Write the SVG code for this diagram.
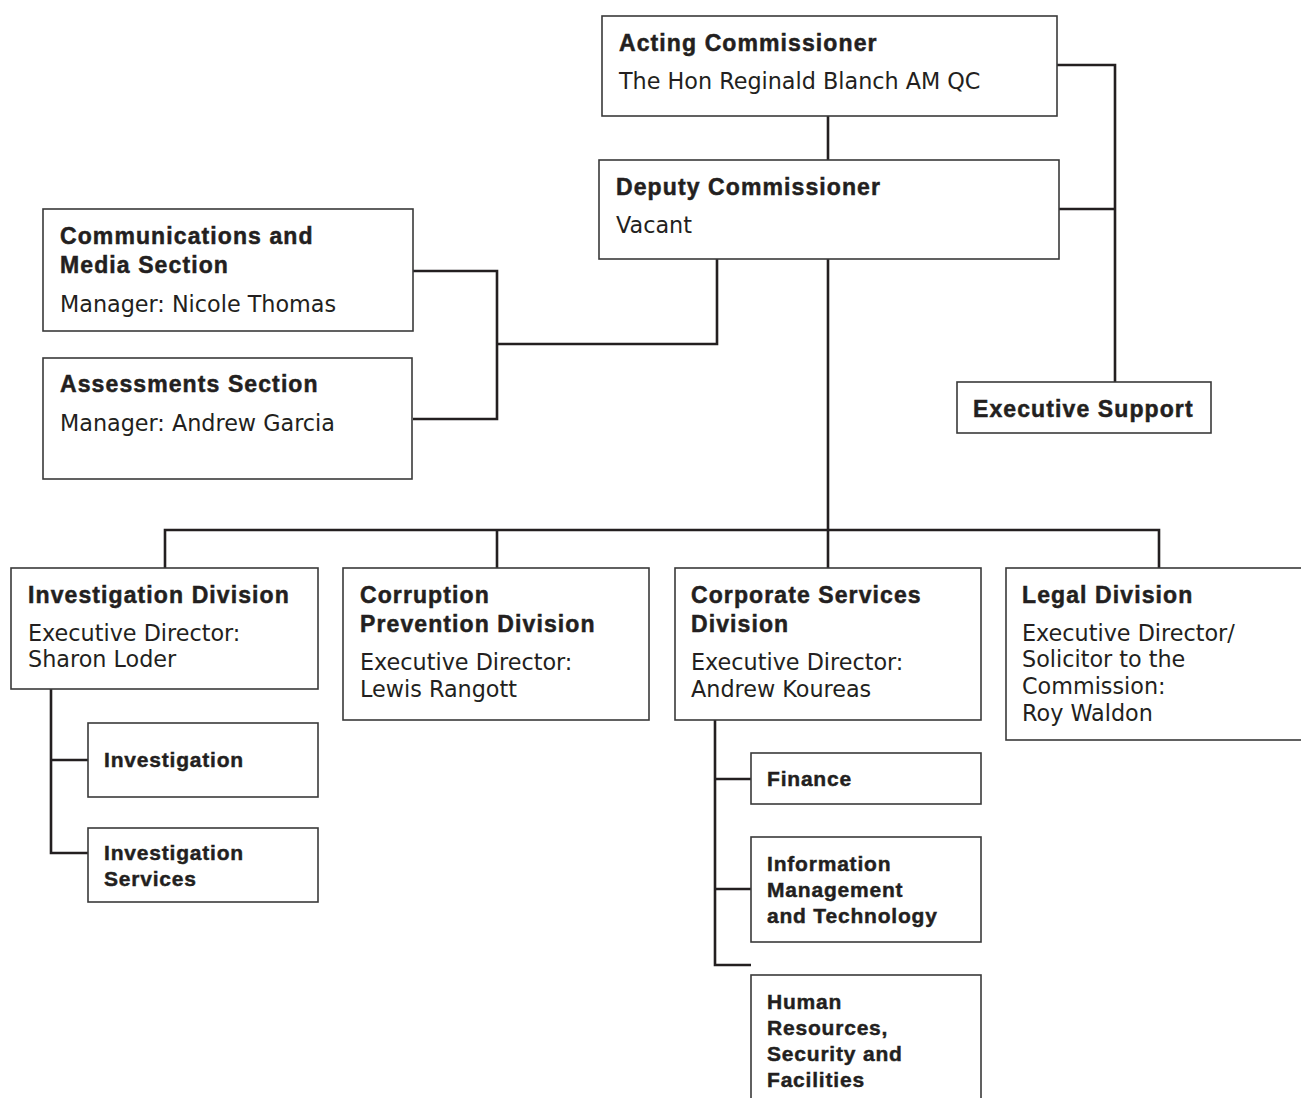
<svg xmlns="http://www.w3.org/2000/svg" width="1301" height="1098" viewBox="0 0 1301 1098">
<style>
.box{fill:#fff;stroke:#3a3a3a;stroke-width:1.6}
.b{font-family:"Liberation Sans",Arial,sans-serif;font-weight:bold;font-size:23px;letter-spacing:1.1px;fill:#231f20;stroke:#231f20;stroke-width:0.5}
.s{font-family:"Liberation Sans",Arial,sans-serif;font-weight:bold;font-size:21px;letter-spacing:0.8px;fill:#231f20;stroke:#231f20;stroke-width:0.45}
.r{font-family:"DejaVu Sans",Verdana,sans-serif;font-size:22.3px;fill:#231f20}
.c{fill:none;stroke:#231f20;stroke-width:2.6}
</style>
<rect width="1301" height="1098" fill="#fff"/>
<g id="connectors">
<path class="c" d="M828 116V160"/>
<path class="c" d="M1057 65H1115V382"/>
<path class="c" d="M1059 209H1115"/>
<path class="c" d="M717 259V344H497"/>
<path class="c" d="M413 271H497V419H413"/>
<path class="c" d="M828 259V568"/>
<path class="c" d="M165 568V530H1159V568"/>
<path class="c" d="M497 530V568"/>
<path class="c" d="M51 689V853H88"/>
<path class="c" d="M51 760H88"/>
<path class="c" d="M715 720V965H751"/>
<path class="c" d="M715 779H751"/>
<path class="c" d="M715 889H751"/>
</g>
<g id="acting">
<rect class="box" x="602" y="16" width="455" height="100"/>
<text class="b" x="619" y="51">Acting Commissioner</text>
<text class="r" x="619" y="89">The Hon Reginald Blanch AM QC</text>
</g>
<g id="deputy">
<rect class="box" x="599" y="160" width="460" height="99"/>
<text class="b" x="616" y="195">Deputy Commissioner</text>
<text class="r" x="616" y="233">Vacant</text>
</g>
<g id="comms">
<rect class="box" x="43" y="209" width="370" height="122"/>
<text class="b" x="60" y="244">Communications and</text>
<text class="b" x="60" y="273">Media Section</text>
<text class="r" x="60" y="312">Manager: Nicole Thomas</text>
</g>
<g id="assessments">
<rect class="box" x="43" y="358" width="369" height="121"/>
<text class="b" x="60" y="392">Assessments Section</text>
<text class="r" x="60" y="431">Manager: Andrew Garcia</text>
</g>
<g id="execsupport">
<rect class="box" x="957" y="382" width="254" height="51"/>
<text class="b" x="973" y="417">Executive Support</text>
</g>
<g id="investigationdiv">
<rect class="box" x="11" y="568" width="307" height="121"/>
<text class="b" x="28" y="603">Investigation Division</text>
<text class="r" x="28" y="641">Executive Director:</text>
<text class="r" x="28" y="667">Sharon Loder</text>
</g>
<g id="corruption">
<rect class="box" x="343" y="568" width="306" height="152"/>
<text class="b" x="360" y="603">Corruption</text>
<text class="b" x="360" y="632">Prevention Division</text>
<text class="r" x="360" y="670">Executive Director:</text>
<text class="r" x="360" y="697">Lewis Rangott</text>
</g>
<g id="corporate">
<rect class="box" x="675" y="568" width="306" height="152"/>
<text class="b" x="691" y="603">Corporate Services</text>
<text class="b" x="691" y="632">Division</text>
<text class="r" x="691" y="670">Executive Director:</text>
<text class="r" x="691" y="697">Andrew Koureas</text>
</g>
<g id="legal">
<rect class="box" x="1006" y="568" width="310" height="172"/>
<text class="b" x="1022" y="603">Legal Division</text>
<text class="r" x="1022" y="641">Executive Director/</text>
<text class="r" x="1022" y="667">Solicitor to the</text>
<text class="r" x="1022" y="694">Commission:</text>
<text class="r" x="1022" y="721">Roy Waldon</text>
</g>
<g id="investigation">
<rect class="box" x="88" y="723" width="230" height="74"/>
<text class="s" x="104" y="767">Investigation</text>
</g>
<g id="invservices">
<rect class="box" x="88" y="828" width="230" height="74"/>
<text class="s" x="104" y="860">Investigation</text>
<text class="s" x="104" y="886">Services</text>
</g>
<g id="finance">
<rect class="box" x="751" y="753" width="230" height="51"/>
<text class="s" x="767" y="786">Finance</text>
</g>
<g id="imt">
<rect class="box" x="751" y="837" width="230" height="105"/>
<text class="s" x="767" y="871">Information</text>
<text class="s" x="767" y="897">Management</text>
<text class="s" x="767" y="923">and Technology</text>
</g>
<g id="hr">
<rect class="box" x="751" y="975" width="230" height="140"/>
<text class="s" x="767" y="1009">Human</text>
<text class="s" x="767" y="1035">Resources,</text>
<text class="s" x="767" y="1061">Security and</text>
<text class="s" x="767" y="1087">Facilities</text>
</g>
</svg>
